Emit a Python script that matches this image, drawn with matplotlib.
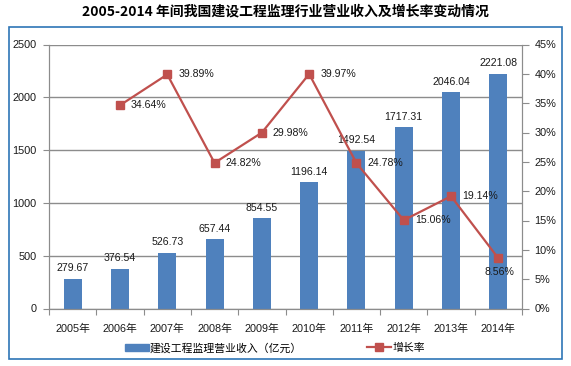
import matplotlib
matplotlib.use('Agg')
import matplotlib.pyplot as plt
from matplotlib.patches import Rectangle, Patch
from matplotlib.lines import Line2D
import numpy as np

plt.rcParams['font.family'] = ['Liberation Sans', 'Noto Sans CJK SC', 'DejaVu Sans']

years = ['2005年', '2006年', '2007年', '2008年', '2009年', '2010年', '2011年', '2012年', '2013年', '2014年']
revenue = [279.67, 376.54, 526.73, 657.44, 854.55, 1196.14, 1492.54, 1717.31, 2046.04, 2221.08]
growth = [None, 34.64, 39.89, 24.82, 29.98, 39.97, 24.78, 15.06, 19.14, 8.56]

bar_color = '#4F81BD'
line_color = '#C0504D'
grid_color = '#8C8C8C'
text_color = '#1A1A1A'

fig = plt.figure(figsize=(5.71, 3.66), dpi=100)
ax = fig.add_axes([49/571, 1-308.5/366, (522-49)/571, (308.5-44.5)/366])
ax2 = ax.twinx()

x = np.arange(len(years))
ax.bar(x, revenue, width=0.38, color=bar_color, zorder=2)
for xi, v in zip(x, revenue):
    ax.annotate(f'{v:.2f}', (xi, v), xytext=(0, 4), textcoords='offset points',
                ha='center', va='bottom', fontsize=7.6, color=text_color)

ax.set_xlim(-0.5, len(years) - 0.5)
ax.set_ylim(0, 2500)
ax.set_yticks(range(0, 2501, 500))
ax.yaxis.grid(True, color=grid_color, lw=1)
ax.set_axisbelow(True)
ax.set_xticks(np.arange(-0.5, len(years), 1))
ax.set_xticklabels([])
ax.set_xticks(x, minor=True)
ax.set_xticklabels(years, minor=True)
ax.tick_params(axis='x', which='major', length=4, color=grid_color)
ax.tick_params(axis='x', which='minor', length=0, pad=11, labelsize=7.8, labelcolor=text_color)
ax.tick_params(axis='y', length=4, color=grid_color, pad=5, labelsize=7.8, labelcolor=text_color)

gx = [xi for xi, g in zip(x, growth) if g is not None]
gy = [g for g in growth if g is not None]
ax2.plot(gx, gy, color=line_color, lw=1.6, marker='s', markersize=6, zorder=3)
for xi, g in zip(gx, gy):
    if xi == x[-1]:
        ax2.annotate(f'{g:.2f}%', (xi, g), xytext=(1, -10), textcoords='offset points',
                     ha='center', va='center', fontsize=7.6, color=text_color)
    else:
        ax2.annotate(f'{g:.2f}%', (xi, g), xytext=(8, 0), textcoords='offset points',
                     ha='left', va='center', fontsize=7.6, color=text_color)
ax2.set_ylim(0, 45)
ax2.set_yticks(range(0, 46, 5))
ax2.set_yticklabels([f'{t}%' for t in range(0, 46, 5)])
ax2.tick_params(axis='y', length=5, color=grid_color, pad=4, labelsize=7.8, labelcolor=text_color)

for a in (ax, ax2):
    a.spines['top'].set_visible(False)
    for s in ('left', 'right', 'bottom'):
        a.spines[s].set_color(grid_color)

fig.text(0.5, 1-12/366, '2005-2014 年间我国建设工程监理行业营业收入及增长率变动情况',
         ha='center', va='center', fontsize=10, fontweight='bold',
         family=['Noto Sans CJK SC', 'DejaVu Sans'])

fig.patches.append(Rectangle((8.5/571, 1-359/366), (562-8.5)/571, (359-27)/366,
                             transform=fig.transFigure, fill=False,
                             edgecolor='#2E75B6', lw=1.2))

handles = [Patch(color=bar_color),
           Line2D([], [], color=line_color, lw=1.6, marker='s', markersize=6)]
fig.legend(handles, ['建设工程监理营业收入（亿元）', '增长率'], loc='center',
           bbox_to_anchor=(275/571, 1-348/366), ncol=2, frameon=False,
           fontsize=7.8, handlelength=2.2, handleheight=0.7, handletextpad=0.1,
           columnspacing=6)

fig.savefig('out.png', dpi=100)
